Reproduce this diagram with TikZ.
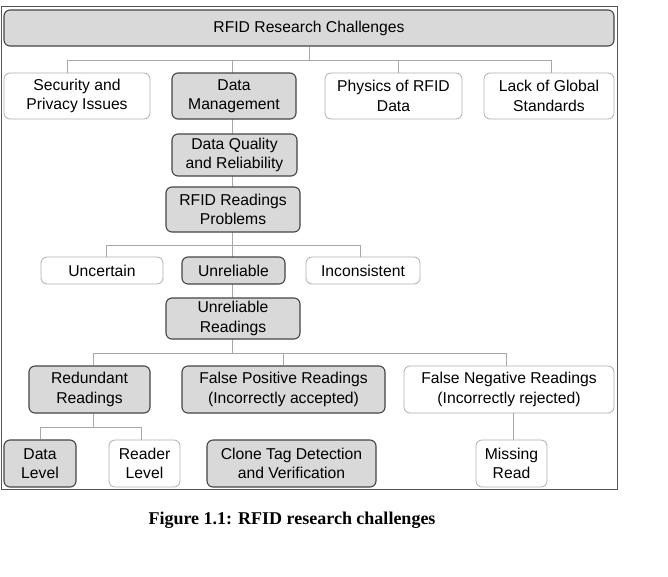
\documentclass[tikz,border=0pt]{standalone}
\usepackage{fontspec}
\setmainfont{Liberation Serif}
\newfontfamily\boxfont{Liberation Sans}
\usetikzlibrary{backgrounds}
\definecolor{boxgray}{HTML}{D9D9D9}
\definecolor{darkedge}{HTML}{444444}
\definecolor{lightedge}{HTML}{AFAFAF}
\definecolor{connc}{HTML}{A8A8A8}
\definecolor{framec}{HTML}{555555}
\tikzset{
  basebox/.style={rectangle, rounded corners=6pt, align=center, inner sep=0pt,
    font=\boxfont\fontsize{15.7}{19.5}\selectfont, text=black},
  graybox/.style={basebox, fill=boxgray, draw=darkedge, line width=1.1pt},
  whitebox/.style={basebox, fill=white, draw=lightedge, line width=0.8pt},
  conn/.style={draw=connc, line width=0.8pt},
}
\begin{document}
\begin{tikzpicture}[x=1pt,y=-1pt]
\useasboundingbox (0,0) rectangle (668,576);
\draw[framec, line width=1pt] (1.5,6) rectangle (617,489);

\node[graybox, minimum width=610pt, minimum height=36pt] (top) at (309,28) {RFID Research Challenges};

\node[whitebox, minimum width=146pt, minimum height=46pt] (sec) at (77,96) {Security and\\Privacy Issues};
\node[graybox, minimum width=124pt, minimum height=46pt] (dm) at (234,96) {Data\\Management};
\node[whitebox, minimum width=137pt, minimum height=46pt] (phy) at (393.5,96) {Physics of RFID\\Data};
\node[whitebox, minimum width=130pt, minimum height=46pt] (lack) at (549,96) {Lack of Global\\Standards};

\node[graybox, minimum width=125pt, minimum height=42pt] (dq) at (234.5,155) {Data Quality\\and Reliability};
\node[graybox, minimum width=134pt, minimum height=45pt] (rp) at (233,209.5) {RFID Readings\\Problems};

\node[whitebox, minimum width=122pt, minimum height=27pt] (unc) at (102,270.5) {Uncertain};
\node[graybox, minimum width=103pt, minimum height=27pt] (unr) at (233.5,270.5) {Unreliable};
\node[whitebox, minimum width=114pt, minimum height=27pt] (inc) at (363,270.5) {Inconsistent};

\node[graybox, minimum width=134pt, minimum height=41pt] (ur) at (233,318.5) {Unreliable\\Readings};

\node[graybox, minimum width=121pt, minimum height=47pt] (red) at (89.5,389.5) {Redundant\\Readings};
\node[graybox, minimum width=203pt, minimum height=47pt] (fp) at (283.5,389.5) {False Positive Readings\\(Incorrectly accepted)};
\node[whitebox, minimum width=210pt, minimum height=47pt] (fn) at (509,389.5) {False Negative Readings\\(Incorrectly rejected)};

\node[graybox, minimum width=72pt, minimum height=47pt] (dl) at (40,463.5) {Data\\Level};
\node[whitebox, minimum width=71pt, minimum height=47pt] (rl) at (144.5,463.5) {Reader\\Level};
\node[graybox, minimum width=169pt, minimum height=47pt] (ct) at (291.5,463.5) {Clone Tag Detection\\and Verification};
\node[whitebox, minimum width=71pt, minimum height=47pt] (mr) at (511.5,463.5) {Missing\\Read};

\node[font=\bfseries\fontsize{18}{21}\selectfont] (cap) at (292,520) {Figure 1.1: RFID research challenges};

\coordinate (j1) at (309,60);
\coordinate (c1) at (232,60);
\coordinate (j2) at (232,245);
\coordinate (j3) at (232,353);
\coordinate (j4) at (93,427);

\begin{pgfonlayer}{background}
  \draw[conn] (top.south) -- (j1);
  \draw[conn] (j1) -| ([xshift=-10pt]sec.north);
  \draw[conn] (j1) -| ([xshift=4.5pt]phy.north);
  \draw[conn] (j1) -| ([xshift=2pt]lack.north);
  \draw[conn] (j1) -- (c1);
  \draw[conn] (c1) -- (j3);
  \draw[conn] (j2) -| ([xshift=4pt]unc.north);
  \draw[conn] (j2) -| ([xshift=-3pt]inc.north);
  \draw[conn] (j3) -| ([xshift=3.5pt]red.north);
  \draw[conn] (j3) -| (fp.north);
  \draw[conn] (j3) -| ([xshift=-3pt]fn.north);
  \draw[conn] ([xshift=3.5pt]red.south) -- (j4);
  \draw[conn] (j4) -| (dl.north);
  \draw[conn] (j4) -| ([xshift=-3.5pt]rl.north);
  \draw[conn] ([xshift=1.5pt]mr.north |- fn.south) -- ([xshift=1.5pt]mr.north);
\end{pgfonlayer}
\end{tikzpicture}
\end{document}
